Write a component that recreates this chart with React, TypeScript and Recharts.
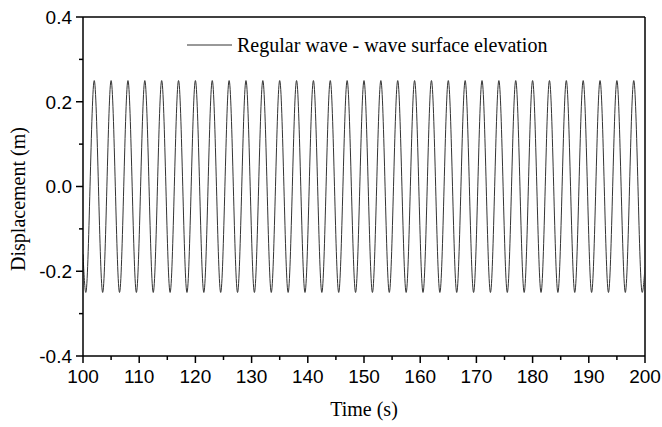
import { Legend, Line, LineChart, ReferenceLine, XAxis, YAxis } from "recharts";

// wave surface elevation, read at start/end and at each crest / trough
const time = [
  100,
  100.5, 102, 103.5, 105, 106.5, 108, 109.5, 111, 112.5, 114,
  115.5, 117, 118.5, 120, 121.5, 123, 124.5, 126, 127.5, 129,
  130.5, 132, 133.5, 135, 136.5, 138, 139.5, 141, 142.5, 144,
  145.5, 147, 148.5, 150, 151.5, 153, 154.5, 156, 157.5, 159,
  160.5, 162, 163.5, 165, 166.5, 168, 169.5, 171, 172.5, 174,
  175.5, 177, 178.5, 180, 181.5, 183, 184.5, 186, 187.5, 189,
  190.5, 192, 193.5, 195, 196.5, 198, 199.5,
  200,
];

const displacement = [
  -0.16,
  -0.25, 0.25, -0.25, 0.25, -0.25, 0.25, -0.25, 0.25, -0.25, 0.25,
  -0.25, 0.25, -0.25, 0.25, -0.25, 0.25, -0.25, 0.25, -0.25, 0.25,
  -0.25, 0.25, -0.25, 0.25, -0.25, 0.25, -0.25, 0.25, -0.25, 0.25,
  -0.25, 0.25, -0.25, 0.25, -0.25, 0.25, -0.25, 0.25, -0.25, 0.25,
  -0.25, 0.25, -0.25, 0.25, -0.25, 0.25, -0.25, 0.25, -0.25, 0.25,
  -0.25, 0.25, -0.25, 0.25, -0.25, 0.25, -0.25, 0.25, -0.25, 0.25,
  -0.25, 0.25, -0.25, 0.25, -0.25, 0.25, -0.25,
  -0.19,
];

const xTicks = [100, 105, 110, 115, 120, 125, 130, 135, 140, 145, 150, 155, 160, 165, 170, 175, 180, 185, 190, 195, 200];
const xLabels = [100, 110, 120, 130, 140, 150, 160, 170, 180, 190, 200];
const yTicks = [-0.4, -0.3, -0.2, -0.1, 0, 0.1, 0.2, 0.3, 0.4];
const yLabels = [-0.4, -0.2, 0, 0.2, 0.4];

const data = time.map((t, i) => ({ t, d: displacement[i] }));

const SANS = '"Liberation Sans", Arial, sans-serif';
const SERIF = '"Liberation Serif", "Times New Roman", serif';

const XTick = (props: any) => {
  const { x, y, payload } = props;
  const major = xLabels.includes(payload.value);
  return (
    <g>
      <line x1={x} x2={x} y1={y} y2={y + (major ? 7 : 4)} stroke="#000" strokeWidth={1.5} />
      {major && (
        <text x={x} y={y + 27} textAnchor="middle" fontSize={19} fontFamily={SANS} fill="#000">
          {payload.value}
        </text>
      )}
    </g>
  );
};

const YTick = (props: any) => {
  const { x, y, payload } = props;
  const major = yLabels.includes(payload.value);
  return (
    <g>
      <line x1={x} x2={x - (major ? 7 : 4)} y1={y} y2={y} stroke="#000" strokeWidth={1.5} />
      {major && (
        <text x={x - 11} y={y} dy="0.36em" textAnchor="end" fontSize={19} fontFamily={SANS} fill="#000">
          {payload.value.toFixed(1)}
        </text>
      )}
    </g>
  );
};

const WaveLegend = () => (
  <div
    style={{
      display: "flex",
      alignItems: "center",
      height: 20,
      fontFamily: SERIF,
      fontSize: 20,
      lineHeight: "20px",
      color: "#000",
    }}
  >
    <svg width={45} height={20}>
      <line x1={0} x2={45} y1={10} y2={10} stroke="#333" strokeWidth={1} />
    </svg>
    <span style={{ marginLeft: 5, whiteSpace: "nowrap" }}>Regular wave - wave surface elevation</span>
  </div>
);

export default function App() {
  return (
    <div style={{ position: "absolute", left: 0, top: 0, background: "#fff" }}>
      <LineChart width={662} height={427} data={data} margin={{ top: 17, right: 17, left: 0, bottom: 0 }}>
        <XAxis
          dataKey="t"
          type="number"
          domain={[100, 200]}
          ticks={xTicks}
          interval={0}
          allowDataOverflow
          height={71}
          tickLine={false}
          tickSize={0}
          tickMargin={0}
          tick={<XTick />}
          axisLine={{ stroke: "#000", strokeWidth: 1.5 }}
          label={{
            content: () => (
              <text x={364} y={416} textAnchor="middle" fontSize={20} fontFamily={SERIF} fill="#000">
                Time (s)
              </text>
            ),
          }}
        />
        <YAxis
          type="number"
          domain={[-0.4, 0.4]}
          ticks={yTicks}
          interval={0}
          allowDataOverflow
          width={83}
          tickLine={false}
          tickSize={0}
          tickMargin={0}
          tick={<YTick />}
          axisLine={{ stroke: "#000", strokeWidth: 1.5 }}
          label={{
            content: () => (
              <text
                x={25}
                y={199}
                transform="rotate(-90, 25, 199)"
                textAnchor="middle"
                fontSize={20}
                fontFamily={SERIF}
                fill="#000"
              >
                Displacement (m)
              </text>
            ),
          }}
        />
        <ReferenceLine y={0.4} stroke="#000" strokeWidth={1.5} />
        <ReferenceLine x={200} stroke="#000" strokeWidth={1.5} />
        <Legend
          layout="horizontal"
          verticalAlign="middle"
          align="center"
          wrapperStyle={{ left: 187, top: 35, width: 380, height: 20 }}
          content={() => <WaveLegend />}
        />
        <Line
          dataKey="d"
          type="monotone"
          dot={false}
          stroke="#333"
          strokeWidth={1}
          isAnimationActive={false}
          legendType="none"
        />
      </LineChart>
    </div>
  );
}
